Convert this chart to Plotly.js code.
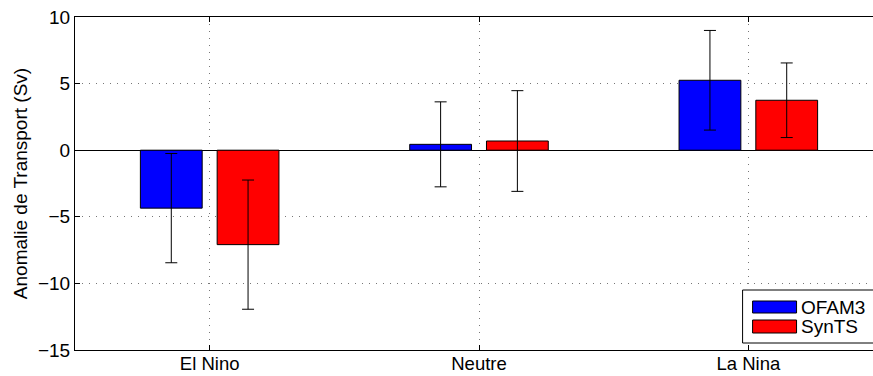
<!DOCTYPE html>
<html>
<head>
<meta charset="utf-8">
<script src="https://cdn.plot.ly/plotly-3.0.1.min.js"></script>
<style>
html, body { margin: 0; padding: 0; overflow: hidden; background: #fff; }
#chart { width: 900px; height: 376px; }
</style>
</head>
<body>
<div id="chart"></div>
<script>
const categories = ["El Nino", "Neutre", "La Nina"];
const seriesNames = ["OFAM3", "SynTS"];
const seriesColors = ["#0000ff", "#ff0000"];
const ofam3Values = [-4.35, 0.44, 5.25];
const ofam3Errors = [4.1, 3.19, 3.74];
const synTSValues = [-7.09, 0.69, 3.75];
const synTSErrors = [4.85, 3.78, 2.8];

const FONT = '"Liberation Sans", Arial, Helvetica, sans-serif';

// plot-area geometry in pixels (for the legend box only)
const PL = 75, PR = 883.5, PT = 17, PB = 350;
const px = v => (v - PL) / (PR - PL);
const py = v => (PB - v) / (PB - PT);

const traces = [
  {
    type: 'bar', name: seriesNames[0], x: categories, y: ofam3Values,
    marker: { color: seriesColors[0], line: { color: '#000000', width: 1 } },
    error_y: { type: 'data', array: ofam3Errors, visible: true, color: '#000000', thickness: 1, width: 6 }
  },
  {
    type: 'bar', name: seriesNames[1], x: categories, y: synTSValues,
    marker: { color: seriesColors[1], line: { color: '#000000', width: 1 } },
    error_y: { type: 'data', array: synTSErrors, visible: true, color: '#000000', thickness: 1, width: 6 }
  }
];

const shapes = [
  { type: 'rect', xref: 'paper', yref: 'paper', x0: px(743), x1: px(900), y0: py(343), y1: py(290),
    line: { color: '#000000', width: 1 }, fillcolor: '#ffffff', layer: 'above' }
];
const annotations = [];
const rowsY = [[301, 313], [320, 333]];
seriesNames.forEach((n, i) => {
  shapes.push({ type: 'rect', xref: 'paper', yref: 'paper', x0: px(753), x1: px(797),
    y0: py(rowsY[i][1]), y1: py(rowsY[i][0]), line: { color: '#000000', width: 1 },
    fillcolor: seriesColors[i], layer: 'above' });
  annotations.push({ xref: 'paper', yref: 'paper', x: px(799), y: py((rowsY[i][0] + rowsY[i][1]) / 2),
    xanchor: 'left', yanchor: 'middle', text: n, showarrow: false,
    font: { family: FONT, size: 19, color: '#000000' } });
});

const layout = {
  width: 900, height: 376,
  margin: { l: 75, r: 16.5, t: 17, b: 26, pad: 0 },
  paper_bgcolor: '#ffffff', plot_bgcolor: '#ffffff',
  font: { family: FONT, size: 19, color: '#000000' },
  barmode: 'group', bargap: 0.43, bargroupgap: 0.195,
  showlegend: false,
  shapes: shapes,
  annotations: annotations,
  xaxis: {
    type: 'category', range: [-0.5, 2.5],
    showline: true, linecolor: '#000000', linewidth: 1, mirror: 'ticks',
    ticks: 'inside', ticklen: 5, tickcolor: '#000000',
    showgrid: true, gridcolor: '#777777', griddash: '1px,6px', gridwidth: 1,
    tickfont: { family: FONT, size: 18.5, color: '#000000' },
    ticklabelstandoff: -3,
    fixedrange: true
  },
  yaxis: {
    range: [-15, 10], tick0: -15, dtick: 5,
    showline: true, linecolor: '#000000', linewidth: 1, mirror: 'ticks',
    ticks: 'inside', ticklen: 5, tickcolor: '#000000',
    showgrid: true, gridcolor: '#777777', griddash: '1px,6px', gridwidth: 1,
    zeroline: true, zerolinecolor: '#000000', zerolinewidth: 1,
    tickfont: { family: FONT, size: 19, color: '#000000' },
    title: { text: 'Anomalie de Transport (Sv)', font: { family: FONT, size: 19, color: '#000000' }, standoff: 5 },
    automargin: false,
    fixedrange: true
  }
};

Plotly.newPlot('chart', traces, layout, { displayModeBar: false, staticPlot: true });
</script>
</body>
</html>
